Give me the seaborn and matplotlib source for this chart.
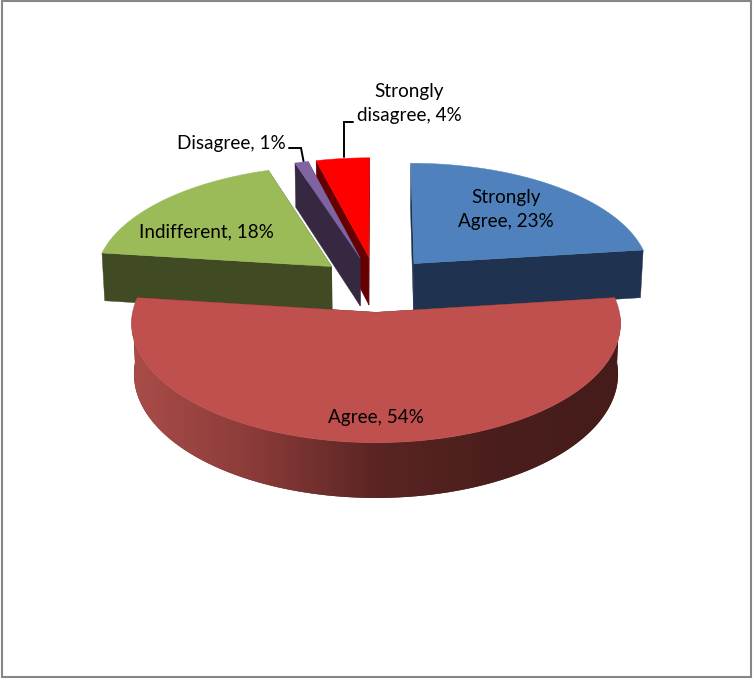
import numpy as np
import matplotlib
matplotlib.use('Agg')
import matplotlib.pyplot as plt
import seaborn as sns

# Datos del grafico
categorias = ['Strongly\nAgree', 'Agree', 'Indifferent', 'Disagree', 'Strongly\ndisagree']
valores = [23, 54, 18, 1, 4]

colores_top = ['#4f81bd', '#c0504d', '#9bbb59', '#8064a2', '#ff0000']
colores_lado = ['#1f3350', '#4d1f1e', '#404b23', '#352840', '#660000']

sns.set_theme(style='white')
plt.rcParams['font.family'] = ['Lato', 'DejaVu Sans']

fig = plt.figure(figsize=(7.53, 6.79), dpi=100)
ax = fig.add_axes([0, 0, 1, 1])
ax.set_xlim(0, 753)
ax.set_ylim(679, 0)
ax.axis('off')

# Parametros de la proyeccion (pseudo 3D con perspectiva)
cx, cy = 376, 284
rx, ry = 238, 113
k = 0.091
alto = 49
explode = 0.245


def proyectar(X, Z):
    s = 1 / (1 + k * Z)
    x = cx + rx * X * s
    y = cy - ry * Z * s
    xb = cx + (x - cx) * 0.99
    yb = y + alto * s
    return x, y, xb, yb


degradado = sns.blend_palette(['#a94c49', '#8a3b39', '#5a2523', '#4a1e1c', '#451c1a'], n_colors=200)

fin = np.cumsum(valores) / sum(valores) * 2 * np.pi
inicio = np.concatenate([[0], fin[:-1]])

# se pinta de atras hacia adelante
orden = [4, 3, 0, 2, 1]
z = 1
for i in orden:
    a0, a1 = inicio[i], fin[i]
    medio = (a0 + a1) / 2
    ox = explode * np.sin(medio)
    oz = explode * np.cos(medio)
    ang = np.linspace(a0, a1, 240)
    xa, ya, xab, yab = proyectar(ox + np.sin(ang), oz + np.cos(ang))
    xc, yc, xcb, ycb = proyectar(ox, oz)

    # paredes radiales
    for j in [0, -1]:
        ax.fill([xc, xa[j], xab[j], xcb], [yc, ya[j], yab[j], ycb],
                color=colores_lado[i], lw=0.3, zorder=z)

    # pared exterior, solo la mitad delantera (con degradado)
    idx = np.where(np.cos(ang) < 0)[0]
    if len(idx) > 1:
        px = np.r_[xa[idx], xab[idx][::-1]]
        py = np.r_[ya[idx], yab[idx][::-1]]
        pared = ax.fill(px, py, color=colores_lado[i], lw=0, zorder=z)[0]
        im = ax.imshow(np.array(degradado)[None, :, :], aspect='auto', zorder=z + 0.5,
                       extent=[px.min(), px.max(), py.max(), py.min()])
        im.set_clip_path(pared)

    # cara de arriba
    ax.fill(np.r_[xc, xa], np.r_[yc, ya], color=colores_top[i], lw=0.3, zorder=z + 1)
    z += 2

ax.set_xlim(0, 753)
ax.set_ylim(679, 0)

# Etiquetas
pos_etiquetas = [(506, 209), (376, 418), (206.5, 232), (231.5, 144), (409, 104)]
for cat, val, (tx, ty) in zip(categorias, valores, pos_etiquetas):
    ax.text(tx, ty, f'{cat}, {val}%', ha='center', va='center', fontsize=13.6,
            color='black', linespacing=1.5, zorder=30)

# Lineas guia
ax.plot([289, 301, 303.5], [148, 148, 161], color='black', lw=1.4, solid_joinstyle='miter', zorder=30)
ax.plot([353, 344, 344], [122, 122, 157], color='black', lw=1.4, solid_joinstyle='miter', zorder=30)

# Marco
ax.add_patch(plt.Rectangle((2, 1), 749, 676, fill=False, ec='#868686', lw=1.5, zorder=31))

fig.savefig('out.png', dpi=100)
